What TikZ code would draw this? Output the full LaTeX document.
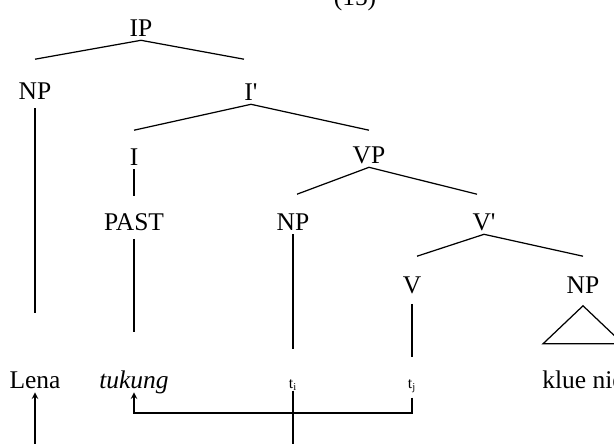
\documentclass[tikz,border=0pt]{standalone}
\usepackage{fontspec}
\setmainfont{Liberation Serif}
\usepackage{tikz}

\begin{document}
\begin{tikzpicture}
        [x = 0.02cm, y = -0.02cm, >= stealth, line width = 0.7pt,
         every node/.style = {font = \fontsize{14.5}{16}\selectfont, inner sep = 2pt,
                              text height = 9.3pt, text depth = 0pt},
         trace/.style = {font = \fontsize{9}{11}\selectfont, inner sep = 1pt,
                         text height = 6pt}]
        \useasboundingbox (0,0) rectangle (614,443);
        \clip (0,0) rectangle (614,443);
        % labels
        \node (num) at (355,5) [anchor = base, text height = {}] {(15)};
        \node (IP) at (141,28) {IP};
        \node (NPa) at (35,91) {NP};
        \node (Ibar) at (251,92) {I\textquotesingle};
        \node (I) at (134,157) {I};
        \node (VP) at (369,155) {VP};
        \node (PAST) at (134,222) {PAST};
        \node (NPb) at (293,222) {NP};
        \node (Vbar) at (484,222) {V\textquotesingle};
        \node (V) at (412,285) {V};
        \node (NPc) at (583,285) {NP};
        \node (Lena) at (35,380) {Lena};
        \node (tukung) at (134,380) {\textit{tukung}};
        \node (ti) at (293,383) [trace] {t\textsubscript{i}};
        \node (tj) at (412,383) [trace] {t\textsubscript{j}};
        \node (klue) at (583,380) {klue nie};
        % branches
        \draw (IP.south) -- ([yshift = 0.39cm]NPa.north);
        \draw (IP.south) -- ([xshift = -0.14cm, yshift = 0.41cm]Ibar.north);
        \draw (Ibar.south) -- ([yshift = 0.29cm]I.north);
        \draw (Ibar.south) -- ([yshift = 0.25cm]VP.north);
        \draw (VP.south) -- ([xshift = 0.08cm, yshift = 0.31cm]NPb.north);
        \draw (VP.south) -- ([xshift = -0.14cm, yshift = 0.31cm]Vbar.north);
        \draw (Vbar.south) -- ([xshift = 0.1cm, yshift = 0.33cm]V.north);
        \draw (Vbar.south) -- ([yshift = 0.33cm]NPc.north);
        \draw[shorten <= 0.1cm, shorten >= 1.1cm] (NPa) -- (Lena);
        \draw[shorten >= 0.27cm] (I) -- (PAST);
        \draw[shorten <= 0.09cm, shorten >= 0.71cm] (PAST) -- (tukung);
        \draw[shorten >= 0.52cm] (NPb) -- (ti);
        \draw[shorten <= 0.13cm, shorten >= 0.36cm] (V) -- (tj);
        \draw ([yshift = -0.17cm]NPc.south) -- ++(-40,38) -- ++(80,0) -- cycle;
        % movement
        \coordinate (lenafoot) at (35,450);
        \coordinate (bend) at (0,413);
        \draw[->] (lenafoot) -- (Lena.south);
        \draw (ti.south) -- (ti.south |- lenafoot);
        \draw[->, shorten <= 0.14cm] (tj.south) -- (tj.south |- bend) -| (tukung.south);
      \end{tikzpicture}
\end{document}
